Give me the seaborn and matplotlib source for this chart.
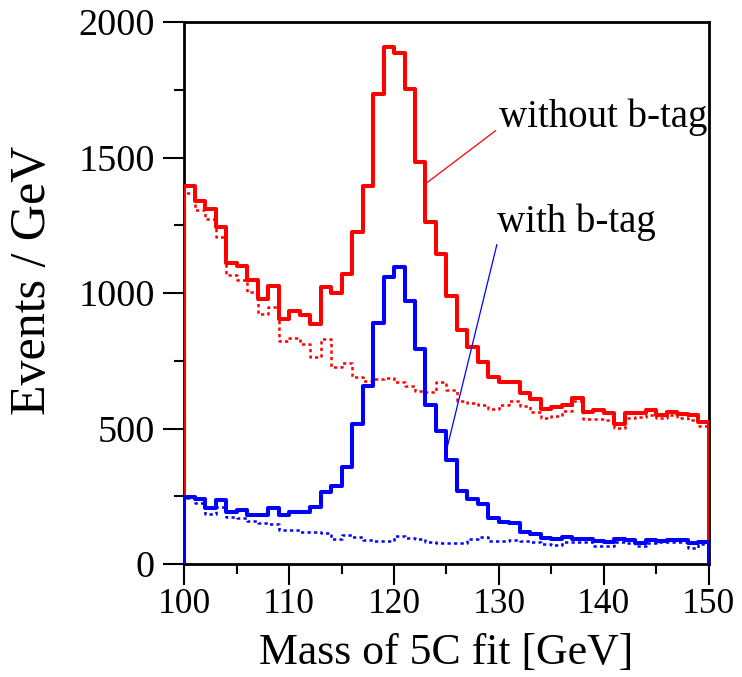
import numpy as np
import pandas as pd
import matplotlib
matplotlib.use("Agg")
import matplotlib.pyplot as plt
from matplotlib.ticker import MultipleLocator
import seaborn as sns

# ---- data (events per 1 GeV bin, 100..150 GeV) ----
bin_edges = list(range(100, 151))
red_solid = [1395, 1339, 1310, 1242, 1112, 1100, 1048, 977, 1025, 903,
             932, 918, 884, 1021, 999, 1069, 1224, 1396, 1734, 1907,
             1884, 1754, 1485, 1261, 1143, 989, 863, 800, 744, 690,
             673, 673, 630, 609, 573, 580, 585, 611, 560, 568,
             556, 517, 556, 558, 567, 550, 562, 553, 549, 524]
red_dotted = [1368, 1306, 1272, 1208, 1066, 1048, 1005, 922, 947, 824,
              833, 812, 763, 829, 726, 741, 691, 676, 684, 686,
              670, 658, 640, 634, 670, 642, 603, 595, 585, 571,
              587, 603, 583, 562, 539, 546, 566, 600, 535, 535,
              533, 503, 539, 542, 550, 539, 550, 539, 533, 509]
blue_solid = [247, 241, 205, 235, 193, 199, 182, 182, 207, 181,
              191, 192, 211, 264, 288, 357, 515, 657, 889, 1060,
              1096, 970, 792, 585, 491, 384, 269, 240, 221, 171,
              154, 152, 119, 110, 97, 93, 98, 93, 93, 86,
              81, 93, 88, 79, 87, 84, 87, 87, 76, 81]
blue_dotted = [242, 224, 184, 211, 172, 169, 160, 150, 148, 125,
               125, 119, 119, 116, 91, 107, 98, 89, 84, 85,
               103, 96, 92, 81, 79, 76, 79, 91, 98, 85,
               85, 88, 85, 80, 74, 71, 83, 83, 81, 66,
               66, 83, 76, 66, 79, 81, 81, 81, 60, 72]
x_ticks = [100, 110, 120, 130, 140, 150]
y_ticks = [0, 500, 1000, 1500, 2000]
x_label = "Mass of 5C fit [GeV]"
y_label = "Events / GeV"
label_without = "without b-tag"
label_with = "with b-tag"

# pad with an empty bin on each side so the outlines drop to zero at 100 and 150
edges_padded = [bin_edges[0] - 1] + bin_edges + [bin_edges[-1] + 1]
centers = [e + 0.5 for e in edges_padded[:-1]]
def pad(v):
    return [0] + list(v) + [0]
df = pd.DataFrame({"mass": centers, "red_solid": pad(red_solid), "red_dotted": pad(red_dotted),
                   "blue_solid": pad(blue_solid), "blue_dotted": pad(blue_dotted)})

sns.set_theme(style="ticks")
plt.rcParams["font.family"] = ["Liberation Serif", "DejaVu Serif"]
plt.rcParams["text.color"] = "black"
plt.rcParams["axes.labelcolor"] = "black"
plt.rcParams["xtick.color"] = "black"
plt.rcParams["ytick.color"] = "black"

fig = plt.figure(figsize=(7.42, 6.77), dpi=100)
ax = fig.add_axes([0.248, 0.1669, 0.7075, 0.8006])

common = dict(x="mass", bins=edges_padded, element="step", fill=False, ax=ax, zorder=3)
sns.histplot(data=df, weights="red_dotted", color="#ff0000", linewidth=1.8,
             linestyle=(0, (1.3, 1.3)), **common)
sns.histplot(data=df, weights="red_solid", color="#ff0000", linewidth=2.9, **common)
sns.histplot(data=df, weights="blue_dotted", color="#0000ff", linewidth=1.8,
             linestyle=(0, (1.3, 1.3)), **common)
sns.histplot(data=df, weights="blue_solid", color="#0000ff", linewidth=2.9, **common)

ax.set_xlim(100, 150)
ax.set_ylim(0, 2000)
ax.set_xticks(x_ticks)
ax.set_yticks(y_ticks)
ax.xaxis.set_minor_locator(MultipleLocator(5))
ax.yaxis.set_minor_locator(MultipleLocator(250))
ax.tick_params(which="major", direction="out", length=15, width=1.5, colors="black")
ax.tick_params(axis="y", which="major", pad=6, labelsize=27.5)
ax.tick_params(axis="x", which="major", pad=2, labelsize=25.5)
ax.tick_params(which="minor", direction="out", length=7, width=1.5)
for s in ax.spines.values():
    s.set_linewidth(2.0)
    s.set_color("black")
    s.set_visible(True)

ax.set_xlabel(x_label, fontsize=31.5, labelpad=9)
ax.set_ylabel(y_label, fontsize=36)
ax.yaxis.set_label_coords(-0.244, 0.524)

# annotations
ax.annotate(label_without, xy=(123.1, 1406), xytext=(130.0, 1650),
            fontsize=28, color="black", va="center", ha="left",
            arrowprops=dict(arrowstyle="-", color="#ff0000", lw=0.9,
                            shrinkA=0, shrinkB=0, relpos=(0, 0.2)))
ax.annotate(label_with, xy=(125.05, 428), xytext=(129.8, 1262),
            fontsize=28, color="black", va="center", ha="left",
            arrowprops=dict(arrowstyle="-", color="#0000ff", lw=0.9,
                            shrinkA=0, shrinkB=0, relpos=(0, -0.1)))

fig.savefig("out.png", dpi=100)
